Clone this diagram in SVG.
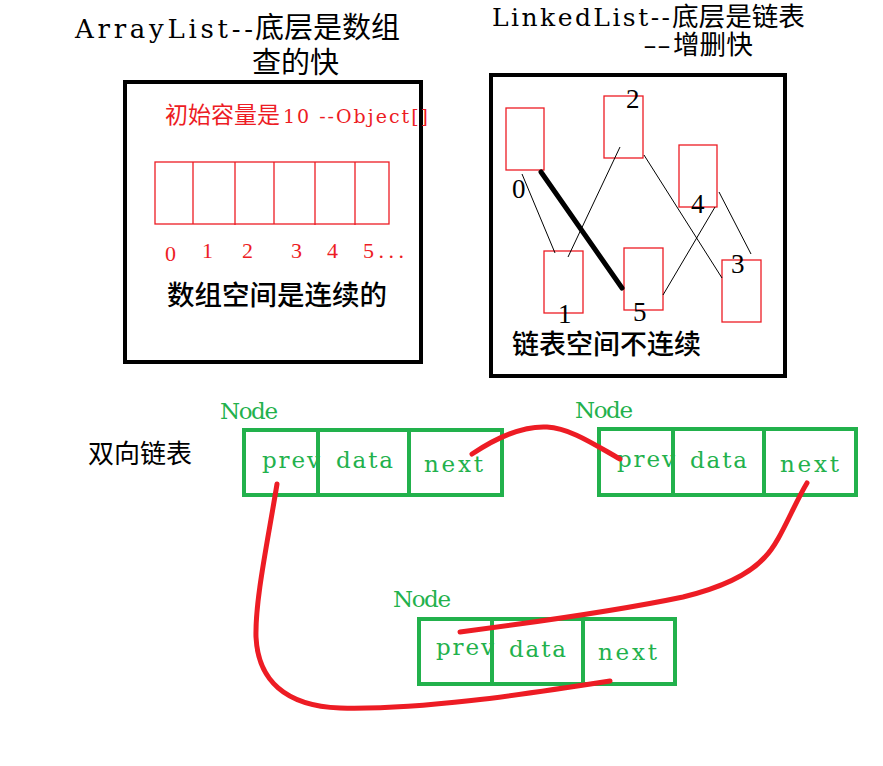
<svg xmlns="http://www.w3.org/2000/svg" width="883" height="766" viewBox="0 0 883 766">
<style>
.lat{font-family:"DejaVu Serif",serif}
.cjk{font-family:"Noto Sans CJK SC",sans-serif}
.num{font-family:"Liberation Serif",serif;font-size:27px;fill:#000}
.rnum{font-family:"Liberation Serif",serif;font-size:22px;fill:#ED1C24}
.frame{fill:none;stroke:#000;stroke-width:4}
.cell{fill:none;stroke:#ED1C24;stroke-width:1.3}
.thin{stroke:#000;stroke-width:1;fill:none}
.node{fill:none;stroke:#22B14C;stroke-width:4}
.gt{font-family:"DejaVu Serif",serif;font-size:23px;fill:#22B14C}
.red{fill:none;stroke:#ED1C24;stroke-width:5;stroke-linecap:round;stroke-linejoin:round}
</style>
<rect width="883" height="766" fill="#fff"/>

<g id="arraylist-title">
<text y="38" fill="#000"><tspan x="75" class="lat" font-size="26" textLength="178" lengthAdjust="spacing">ArrayList--</tspan><tspan x="255" class="cjk" font-size="29">底层是数组</tspan></text>
<text x="252" y="73" class="cjk" font-size="29" fill="#000">查的快</text>
</g>

<g id="linkedlist-title">
<text y="26" fill="#000"><tspan x="492" class="lat" font-size="25" textLength="178" lengthAdjust="spacing">LinkedList--</tspan><tspan x="672" class="cjk" font-size="26.6">底层是链表</tspan></text>
<text y="54" fill="#000"><tspan x="643" class="lat" font-size="25" textLength="28" lengthAdjust="spacingAndGlyphs">--</tspan><tspan x="673" class="cjk" font-size="26.6">增删快</tspan></text>
</g>

<g id="arraylist-box">
<rect class="frame" x="125" y="82" width="296" height="280"/>
<text y="123" fill="#ED1C24"><tspan x="165" class="cjk" font-size="23">初始容量是</tspan><tspan x="283" class="lat" font-size="19" textLength="145" lengthAdjust="spacing">10 --Object[]</tspan></text>
<rect class="cell" x="155" y="162" width="234" height="62"/>
<path class="cell" d="M193,162V224M235,162V225M274,162V224M315,162V225M355,162V225"/>
<text class="rnum" x="165" y="261">0</text>
<text class="rnum" x="202" y="258">1</text>
<text class="rnum" x="242" y="258">2</text>
<text class="rnum" x="291" y="258">3</text>
<text class="rnum" x="327" y="258">4</text>
<text class="rnum" x="363" y="258" textLength="41" lengthAdjust="spacing">5...</text>
<text x="167" y="305" class="cjk" font-size="27.5" font-weight="500" fill="#000">数组空间是连续的</text>
</g>

<g id="linkedlist-box">
<rect class="frame" x="491" y="75" width="294" height="301"/>
</g>

<g id="ll-node0"><rect class="cell" x="506" y="108" width="38" height="62"/><text class="num" x="512" y="198">0</text></g>
<g id="ll-node1"><rect class="cell" x="544" y="251" width="39" height="62"/><text class="num" x="558" y="323">1</text></g>
<g id="ll-node2"><rect class="cell" x="604" y="96" width="39" height="62"/><text class="num" x="626" y="108">2</text></g>
<g id="ll-node3"><rect class="cell" x="722" y="260" width="39" height="62"/><text class="num" x="731" y="273">3</text></g>
<g id="ll-node4"><rect class="cell" x="679" y="145" width="38" height="62"/><text class="num" x="691" y="213">4</text></g>
<g id="ll-node5"><rect class="cell" x="624" y="248" width="39" height="62"/><text class="num" x="633" y="321">5</text></g>

<g id="ll-caption">
<text x="512" y="354" class="cjk" font-size="27" font-weight="500" fill="#000">链表空间不连续</text>
</g>

<g id="ll-connectors">
<line class="thin" x1="522" y1="174" x2="555" y2="253"/>
<line class="thin" x1="568" y1="257" x2="620" y2="147"/>
<line class="thin" x1="644" y1="155" x2="722" y2="278"/>
<line class="thin" x1="719" y1="192" x2="751" y2="254"/>
<line class="thin" x1="663" y1="295" x2="715" y2="207"/>
<line x1="541" y1="172" x2="622" y2="288" stroke="#000" stroke-width="5" stroke-linecap="round"/>
</g>

<g id="dll-label">
<text x="88" y="463" class="cjk" font-size="26" fill="#000">双向链表</text>
</g>

<g id="dnode1">
<text class="gt" x="220" y="419" textLength="58" lengthAdjust="spacing">Node</text>
<text class="gt" x="262" y="468" textLength="58" lengthAdjust="spacing">prev</text>
<text class="gt" x="336" y="468" textLength="57" lengthAdjust="spacing">data</text>
<text class="gt" x="424" y="472" textLength="59" lengthAdjust="spacing">next</text>
<rect class="node" x="244" y="430" width="258" height="65"/>
<path class="node" d="M318,430V495M409,430V495"/>
</g>

<g id="dnode2">
<text class="gt" x="575" y="418" textLength="58" lengthAdjust="spacing">Node</text>
<text class="gt" x="617" y="467" textLength="58" lengthAdjust="spacing">prev</text>
<text class="gt" x="690" y="468" textLength="57" lengthAdjust="spacing">data</text>
<text class="gt" x="780" y="472" textLength="59" lengthAdjust="spacing">next</text>
<rect class="node" x="599" y="429" width="257" height="66"/>
<path class="node" d="M673,429V495M764,429V495"/>
</g>

<g id="dnode3">
<text class="gt" x="393" y="607" textLength="58" lengthAdjust="spacing">Node</text>
<text class="gt" x="436" y="655" textLength="58" lengthAdjust="spacing">prev</text>
<text class="gt" x="509" y="657" textLength="57" lengthAdjust="spacing">data</text>
<text class="gt" x="598" y="660" textLength="59" lengthAdjust="spacing">next</text>
<rect class="node" x="419" y="619" width="256" height="65"/>
<path class="node" d="M492,619V684M583,619V684"/>
</g>

<g id="dll-connectors">
<path class="red" d="M472,454 C505,432 528,426 547,427 C570,428 595,445 620,459"/>
<path class="red" d="M807,483 C792,508 780,542 765,557 C748,576 720,588 683,597 C640,606 560,619 460,632"/>
<path class="red" d="M277,484 C268,540 255,600 256,637 C258,680 285,706 340,708 C420,710 520,695 610,681"/>
</g>
</svg>
